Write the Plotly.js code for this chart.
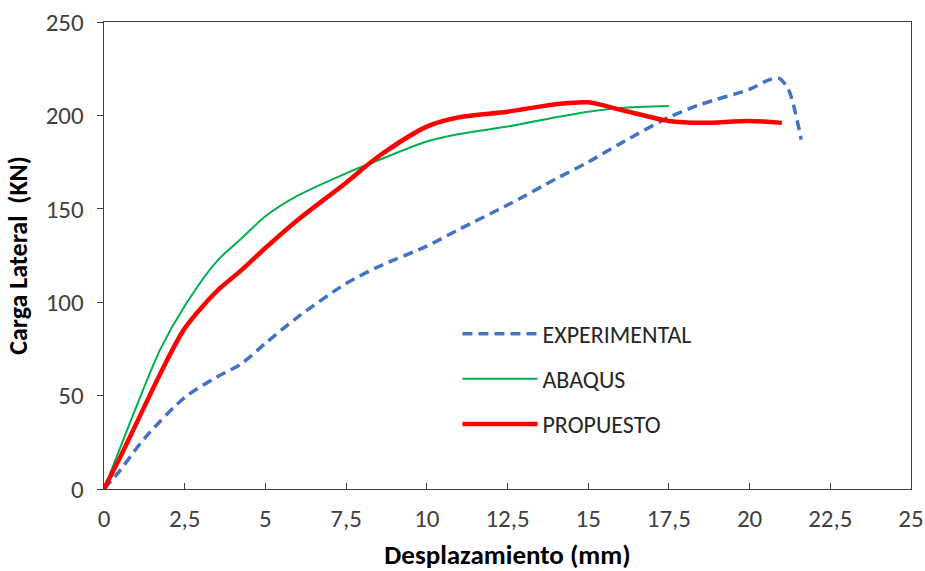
<!DOCTYPE html>
<html>
<head>
<meta charset="utf-8">
<script src="https://cdn.plot.ly/plotly-3.0.1.min.js"></script>
<style>html,body{margin:0;padding:0;background:#fff}#chart{width:925px;height:571px}</style>
</head>
<body>
<div id="chart"></div>
<script>
const expX = [0, 0.5, 1.25, 2.5, 3.5, 4.25, 5, 6, 7.5, 8.5, 10, 11, 12.5, 14, 15, 16, 17.5, 18.5, 20, 20.6, 20.9, 21.2, 21.6];
const expY = [0, 10, 27, 49, 60, 67, 78, 92, 110, 119, 130, 139, 152, 166, 175, 185, 199, 206, 214, 219, 220, 214, 187];
const abqX = [0, 0.5, 1, 1.75, 2.5, 3.5, 4.25, 5, 6, 7.5, 8.5, 10, 11, 12.5, 14, 15, 16, 17.5];
const abqY = [0, 22, 44, 75, 98, 122, 134, 146, 157, 169, 176, 186, 190, 194, 199, 202, 204, 205];
const proX = [0, 0.5, 1, 1.75, 2.5, 3.5, 4.25, 5, 6, 7.5, 8.5, 10, 11, 12.5, 14, 15, 16, 17.5, 18.5, 20, 21];
const proY = [0, 17, 35, 62, 86, 106, 117, 129, 144, 164, 178, 194, 199, 202, 206, 207, 203, 197, 196, 197, 196];
const xTicks = [0, 2.5, 5, 7.5, 10, 12.5, 15, 17.5, 20, 22.5, 25];
const xTickText = ['0', '2,5', '5', '7,5', '10', '12,5', '15', '17,5', '20', '22,5', '25'];
const yTicks = [0, 50, 100, 150, 200, 250];

const font = "Carlito, Calibri, Open Sans, sans-serif";
const traces = [
  {x: expX, y: expY, name: 'EXPERIMENTAL', mode: 'lines', legendgroup: 'a',
   line: {color: '#4472C4', width: 3.5, dash: '10px,6px', shape: 'spline', smoothing: 0.8}},
  {x: abqX, y: abqY, name: 'ABAQUS', mode: 'lines', legendgroup: 'b',
   line: {color: '#00B050', width: 2, shape: 'spline', smoothing: 0.8}},
  {x: proX, y: proY, name: 'PROPUESTO', mode: 'lines', legendgroup: 'c',
   line: {color: '#FF0000', width: 4.5, shape: 'spline', smoothing: 0.8}}
];
const layout = {
  width: 925, height: 571,
  margin: {l: 104, r: 14, t: 22, b: 82},
  paper_bgcolor: '#fff', plot_bgcolor: '#fff',
  font: {family: font, size: 25, color: '#404040'},
  showlegend: true,
  legend: {x: 0.438, y: 0.38, xanchor: 'left', yanchor: 'top', bgcolor: 'rgba(0,0,0,0)',
           font: {family: font, size: 24, color: '#262626'}, tracegroupgap: 11, traceorder: 'grouped', itemwidth: 75},
  xaxis: {range: [0, 25], tickvals: xTicks, ticktext: xTickText, showgrid: false, zeroline: false,
          showline: true, linecolor: '#404040', linewidth: 1.3, mirror: true,
          ticks: 'inside', ticklen: 6, tickcolor: '#404040', ticklabelstandoff: 7,
          tickfont: {family: font, size: 25, color: '#404040'},
          title: {text: 'Desplazamiento (mm)', font: {family: font, size: 27, color: '#000', weight: 'bold'}, standoff: 12}},
  yaxis: {range: [0, 250], tickvals: yTicks, showgrid: false, zeroline: false,
          showline: true, linecolor: '#404040', linewidth: 1.3, mirror: true,
          ticks: 'outside', ticklen: 6, tickcolor: '#404040', ticklabelstandoff: 8,
          tickfont: {family: font, size: 25, color: '#404040'},
          title: {text: 'Carga Lateral  (KN)', font: {family: font, size: 26, color: '#000', weight: 'bold'}, standoff: 10}}
};
Plotly.newPlot('chart', traces, layout, {displayModeBar: false, staticPlot: true});
</script>
</body>
</html>
